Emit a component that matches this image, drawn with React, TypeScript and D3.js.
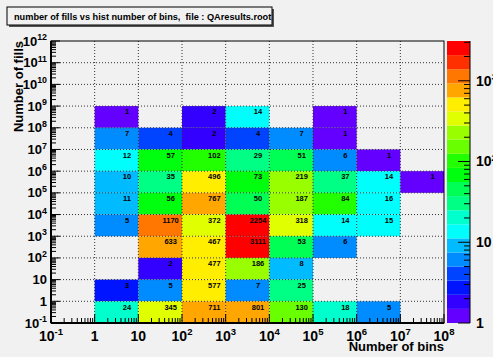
import React from "react";
import * as d3 from "d3";

// bin low edges (decades)
const xBinLows = [1, 1e1, 1e2, 1e3, 1e4, 1e5, 1e6, 1e7];
const yBinLows = [1e8, 1e7, 1e6, 1e5, 1e4, 1e3, 1e2, 1e1, 1, 0.1];

// counts, one row per y bin (top to bottom), null = empty
const row1e8 = [1, null, 2, 14, null, 1, null, null];
const row1e7 = [7, 4, 2, 4, 7, 1, null, null];
const row1e6 = [12, 57, 102, 29, 51, 6, 1, null];
const row1e5 = [10, 35, 496, 73, 219, 37, 14, 1];
const row1e4 = [11, 56, 767, 50, 187, 84, 16, null];
const row1e3 = [5, 1170, 372, 2254, 318, 14, 15, null];
const row1e2 = [null, 633, 467, 3111, 53, 6, null, null];
const row1e1 = [null, 2, 477, 186, 8, null, null, null];
const row1e0 = [3, 5, 577, 7, 25, null, null, null];
const row1em1 = [24, 345, 711, 801, 130, 18, 5, null];
const counts = [row1e8, row1e7, row1e6, row1e5, row1e4, row1e3, row1e2, row1e1, row1e0, row1em1];

const xTickExps = [-1, 0, 1, 2, 3, 4, 5, 6, 7, 8];
const yTickExps = [-1, 0, 1, 2, 3, 4, 5, 6, 7, 8, 9, 10, 11, 12];
const zTickExps = [0, 1, 2, 3];

const title = "number of fills vs hist number of bins,  file : QAresults.root";
const xTitle = "Number of bins";
const yTitle = "Number of fills";

const W = 493;
const H = 357;
const m = { left: 51, right: 444, top: 41, bottom: 323 };
const bar = { x0: 447, x1: 470 };
const font = "'Liberation Sans', Arial, Helvetica, sans-serif";
const bg = "#f1f1f1";

const nLevels = 20;
const nColors = 50;
const zMaxLog = Math.log10(d3.max(counts.flat().filter((v) => v != null) as number[]) as number);

function paletteColor(level: number) {
  const idx = Math.floor(((level + 0.99) * nColors) / nLevels);
  const hue = 280 - (idx + 1) * (280 / nColors);
  return d3.hsl(hue, 1, 0.5).formatHex();
}

function cellColor(v: number) {
  let k = Math.floor(0.01 + (Math.log10(v) / zMaxLog) * nLevels);
  if (k > nLevels - 1) k = nLevels - 1;
  if (k < 0) k = 0;
  return paletteColor(k);
}

function PowLabel({ e, x, y, anchor, size }: { e: number; x: number; y: number; anchor: string; size: number }) {
  const common = { x, y, textAnchor: anchor as any, fontFamily: font, fontWeight: "bold", fontSize: size, fill: "#000" };
  if (e === 0) return <text {...common} dy="0.35em">1</text>;
  if (e === 1) return <text {...common} dy="0.35em">10</text>;
  return (
    <text {...common} dy="0.35em">
      10
      <tspan dy={-size * 0.42} fontSize={size * 0.68}>{e}</tspan>
    </text>
  );
}

export default function App() {
  const x = d3.scaleLog().domain([0.1, 1e8]).range([m.left, m.right]);
  const y = d3.scaleLog().domain([0.1, 1e12]).range([m.bottom, m.top]);
  const z = d3.scaleLinear().domain([0, zMaxLog]).range([m.bottom, m.top]);

  const xMinor: number[] = [];
  for (let e = -1; e < 8; e++) for (let k = 2; k <= 9; k++) xMinor.push(k * Math.pow(10, e));
  const yMinor: number[] = [];
  for (let e = -1; e < 12; e++) for (let k = 2; k <= 9; k++) yMinor.push(k * Math.pow(10, e));
  const zMinor: number[] = [];
  for (let e = 0; e < 4; e++)
    for (let k = 2; k <= 9; k++) if (Math.log10(k * Math.pow(10, e)) <= zMaxLog) zMinor.push(k * Math.pow(10, e));

  const cells: React.ReactNode[] = [];
  const labels: React.ReactNode[] = [];
  counts.forEach((row, j) => {
    const ylo = yBinLows[j];
    const yhi = ylo * 10;
    row.forEach((v, i) => {
      if (v == null) return;
      const xlo = xBinLows[i];
      const xhi = xlo * 10;
      cells.push(
        <rect key={`c${i}-${j}`} x={x(xlo)} y={y(yhi)} width={x(xhi) - x(xlo)} height={y(ylo) - y(yhi)} fill={cellColor(v)} />
      );
      labels.push(
        <text
          key={`t${i}-${j}`}
          x={x((xlo + xhi) / 2)}
          y={y((ylo + yhi) / 2)}
          dy="0.35em"
          textAnchor="middle"
          fontFamily={font}
          fontWeight="bold"
          fontSize={7.5}
          fill="#000"
        >
          {v}
        </text>
      );
    });
  });

  return (
    <svg width={W} height={H} style={{ position: "absolute", left: 0, top: 0 }}>
      <rect x={0} y={0} width={W} height={H} fill={bg} />

      {/* title box */}
      <rect x={9} y={9} width={265} height={18} fill="#555" />
      <rect x={7} y={7} width={265} height={18} fill={bg} stroke="#000" strokeWidth={1} />
      <text x={14} y={20} fontFamily={font} fontWeight="bold" fontSize={9.2} fill="#000" style={{ whiteSpace: "pre" }}>
        {title}
      </text>

      {/* frame */}
      <rect x={m.left} y={m.top} width={m.right - m.left} height={m.bottom - m.top} fill={bg} />
      <g>{cells}</g>

      {/* grid */}
      <g stroke="#333" strokeWidth={1} strokeDasharray="1 2">
        {xTickExps.slice(1, -1).map((e) => (
          <line key={`gx${e}`} x1={x(Math.pow(10, e))} x2={x(Math.pow(10, e))} y1={m.top} y2={m.bottom} />
        ))}
        {yTickExps.slice(1, -1).map((e) => (
          <line key={`gy${e}`} y1={y(Math.pow(10, e))} y2={y(Math.pow(10, e))} x1={m.left} x2={m.right} />
        ))}
      </g>
      <g>{labels}</g>

      {/* ticks */}
      <g stroke="#000" strokeWidth={1}>
        {xMinor.map((v, i) => (
          <line key={`xm${i}`} x1={x(v)} x2={x(v)} y1={m.bottom} y2={m.bottom - 5} />
        ))}
        {xTickExps.map((e) => (
          <line key={`xM${e}`} x1={x(Math.pow(10, e))} x2={x(Math.pow(10, e))} y1={m.bottom} y2={m.bottom - 9} />
        ))}
        {yMinor.map((v, i) => (
          <line key={`ym${i}`} y1={y(v)} y2={y(v)} x1={m.left} x2={m.left + 5} />
        ))}
        {yTickExps.map((e) => (
          <line key={`yM${e}`} y1={y(Math.pow(10, e))} y2={y(Math.pow(10, e))} x1={m.left} x2={m.left + 9} />
        ))}
      </g>
      <rect x={m.left} y={m.top} width={m.right - m.left} height={m.bottom - m.top} fill="none" stroke="#000" strokeWidth={1} />
      <line x1={m.left} x2={m.right} y1={m.bottom} y2={m.bottom} stroke="#000" strokeWidth={2} />
      <line x1={m.left} x2={m.left} y1={m.top} y2={m.bottom} stroke="#000" strokeWidth={2} />

      {/* tick labels */}
      {xTickExps.map((e) => (
        <PowLabel key={`xl${e}`} e={e} x={x(Math.pow(10, e))} y={m.bottom + 13} anchor="middle" size={14} />
      ))}
      {yTickExps.map((e) => (
        <PowLabel key={`yl${e}`} e={e} x={m.left - 4} y={y(Math.pow(10, e))} anchor="end" size={13} />
      ))}

      {/* axis titles */}
      <text x={m.right} y={351} textAnchor="end" fontFamily={font} fontWeight="bold" fontSize={13} fill="#000">
        {xTitle}
      </text>
      <text
        transform={`translate(23,${m.top}) rotate(-90)`}
        textAnchor="end"
        fontFamily={font}
        fontWeight="bold"
        fontSize={13}
        fill="#000"
      >
        {yTitle}
      </text>

      {/* color bar */}
      {d3.range(nLevels).map((k) => {
        const lo = (k * zMaxLog) / nLevels;
        const hi = ((k + 1) * zMaxLog) / nLevels;
        return <rect key={`zb${k}`} x={bar.x0} y={z(hi)} width={bar.x1 - bar.x0} height={z(lo) - z(hi)} fill={paletteColor(k)} />;
      })}
      <g stroke="#000" strokeWidth={1}>
        <line x1={bar.x1} x2={bar.x1} y1={m.top} y2={m.bottom} />
        {zMinor.map((v, i) => (
          <line key={`zm${i}`} x1={bar.x1} x2={bar.x1 - 6} y1={z(Math.log10(v))} y2={z(Math.log10(v))} />
        ))}
        {zTickExps.map((e) => (
          <line key={`zM${e}`} x1={bar.x1} x2={bar.x1 - 12} y1={z(e)} y2={z(e)} />
        ))}
      </g>
      {zTickExps.map((e) => (
        <PowLabel key={`zl${e}`} e={e} x={bar.x1 + 6} y={z(e)} anchor="start" size={14} />
      ))}
    </svg>
  );
}
